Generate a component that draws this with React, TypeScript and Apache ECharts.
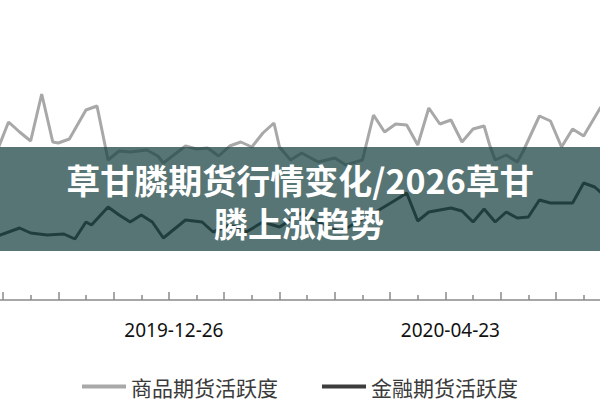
import React, { useEffect, useRef } from "react";
import * as echarts from "echarts";

// x positions in trading-day units (tick every 5, labelled tick every 10)
const grayX = [-1, 1, 3, 5, 7, 9, 10, 12, 15, 17, 19, 21, 23, 26, 28, 29, 33, 35, 37, 39, 41, 43, 45, 47, 49, 50, 52, 54, 57, 60, 62, 65, 67, 69, 71, 73, 75, 77, 79, 81, 83, 85, 87, 88, 89, 91, 93, 94, 97, 99, 101, 103, 105, 108, 110];
const grayY = [150, 178, 168, 159, 206, 158, 157, 161, 190, 194, 140, 149, 148, 150, 144, 137, 154, 151, 152, 144, 154, 158, 153, 167, 177, 153, 140, 147, 138, 142, 135, 140, 185, 168, 176, 175, 155, 192, 176, 180, 158, 171, 174, 155, 140, 145, 138, 148, 184, 179, 153, 171, 164, 192, 204];

const darkX = [-1, 3, 5, 8, 11, 13, 15, 16, 19, 21, 23, 25, 27, 29, 33, 36, 38, 41, 44, 47, 50, 52, 54, 57, 61, 64, 68, 71, 73, 75, 77, 79, 81, 83, 85, 87, 89, 91, 93, 95, 97, 99, 103, 105, 107, 108, 110];
const darkY = [64, 72, 67, 65, 66, 61, 78, 75, 93, 85, 78, 85, 78, 62, 80, 78, 68, 75, 68, 78, 73, 80, 87, 78, 68, 78, 90, 100, 107, 79, 88, 90, 92, 89, 78, 91, 78, 88, 82, 83, 100, 97, 97, 117, 113, 108, 104];

const seriesNames = ["商品期货活跃度", "金融期货活跃度"];
const tickLabelPos = [30, 80];
const tickLabels = ["2019-12-26", "2020-04-23"];
const titleLines = ["草甘膦期货行情变化/2026草甘", "膦上涨趋势"];

export default function App() {
  const ref = useRef<HTMLDivElement>(null);
  useEffect(() => {
    if (!ref.current) return;
    const chart = echarts.init(ref.current, null, { renderer: "svg" });
    const gray = grayX.map((x, i) => [x, grayY[i]]);
    const dark = darkX.map((x, i) => [x, darkY[i]]);
    const titleStyle = {
      fill: "#ffffff",
      fontSize: 34,
      fontWeight: "bold",
      fontFamily: "Noto Sans CJK SC",
      align: "center",
      verticalAlign: "middle",
      lineHeight: 36,
    };
    chart.setOption({
      animation: false,
      backgroundColor: "#ffffff",
      grid: {
        left: -52.3,
        right: -66.6,
        top: 0,
        bottom: 100,
        containLabel: false,
        outerBoundsMode: "none",
      },
      xAxis: {
        type: "value",
        min: -10,
        max: 120,
        interval: 10,
        axisLine: { show: true, lineStyle: { color: "#8a8a8a", width: 1.5 } },
        axisTick: { show: true, inside: true, length: 8, lineStyle: { color: "#8a8a8a", width: 1.5 } },
        minorTick: { show: true, splitNumber: 2, length: 5, lineStyle: { color: "#8a8a8a", width: 1.5 } },
        splitLine: { show: false },
        minorSplitLine: { show: false },
        axisLabel: {
          margin: 20,
          fontSize: 19,
          fontFamily: "Noto Sans",
          color: "#111",
          padding: [0, 0, 0, 10],
          formatter: (v: number) => {
            const k = tickLabelPos.indexOf(Math.round(v));
            return k >= 0 ? tickLabels[k] : "";
          },
        },
      },
      yAxis: {
        type: "value",
        min: 0,
        max: 300,
        show: false,
        splitLine: { show: false },
      },
      legend: {
        data: seriesNames,
        left: "center",
        top: 371,
        icon: "rect",
        itemWidth: 44,
        itemHeight: 4,
        itemGap: 44,
        textStyle: { fontSize: 21, color: "#3a3a3a", fontFamily: "Noto Sans CJK SC" },
      },
      series: [
        {
          name: seriesNames[0],
          type: "line",
          data: gray,
          showSymbol: false,
          symbol: "none",
          lineStyle: { color: "#a8a8a8", width: 3 },
          itemStyle: { color: "#a8a8a8" },
        },
        {
          name: seriesNames[1],
          type: "line",
          data: dark,
          showSymbol: false,
          symbol: "none",
          lineStyle: { color: "#333333", width: 3 },
          itemStyle: { color: "#3c3c3c" },
        },
      ],
      graphic: [
        {
          type: "rect",
          z: 100,
          shape: { x: 0, y: 147, width: 600, height: 104 },
          style: { fill: "rgba(26,67,66,0.735)" },
        },
        {
          type: "text",
          z: 101,
          x: 300,
          y: 179,
          style: { ...titleStyle, text: titleLines[0] },
        },
        {
          type: "text",
          z: 101,
          x: 299,
          y: 222,
          style: { ...titleStyle, text: titleLines[1] },
        },
      ],
    });
    return () => chart.dispose();
  }, []);
  return <div ref={ref} style={{ position: "fixed", left: 0, top: 0, width: 600, height: 400 }} />;
}
